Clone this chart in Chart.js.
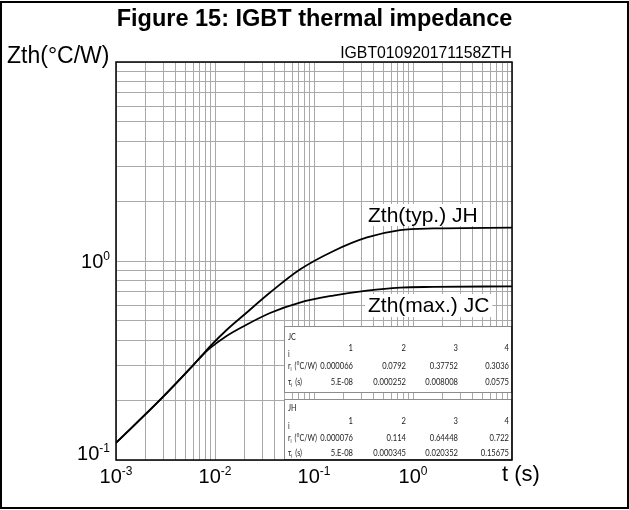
<!DOCTYPE html>
<html><head><meta charset="utf-8">
<script src="https://cdn.jsdelivr.net/npm/chart.js@4/dist/chart.umd.min.js"></script>
<style>html,body{margin:0;padding:0;background:#fff}#wrap{width:629px;height:510px;position:relative}</style>
</head><body><div id="wrap"><canvas id="c" width="629" height="510"></canvas></div>
<script>
// ---- data ----
const timeJC = [0.001, 0.0028, 0.006, 0.0075, 0.0089, 0.0131, 0.0193, 0.036, 0.072, 0.156, 0.343, 0.74, 1.6, 10];
const zthJC  = [0.122, 0.201, 0.299, 0.337, 0.365, 0.42, 0.469, 0.548, 0.618, 0.670, 0.710, 0.7355, 0.741, 0.746];
const timeJH = [0.001, 0.0028, 0.006, 0.0075, 0.0089, 0.0131, 0.0193, 0.036, 0.072, 0.156, 0.343, 0.74, 1.6, 10];
const zthJH  = [0.122, 0.201, 0.299, 0.338, 0.372, 0.45, 0.532, 0.694, 0.906, 1.12, 1.313, 1.43, 1.458, 1.47];

const xTickExponents = [-3, -2, -1, 0];
const yTickExponents = [0, -1];
const xRange = [0.001, 10];
const yRange = [0.1, 10];

const tableIndex = ['1', '2', '3', '4'];
const jcR   = ['0.000066', '0.0792', '0.37752', '0.3036'];
const jcTau = ['5.E-08', '0.000252', '0.008008', '0.0575'];
const jhR   = ['0.000076', '0.114', '0.64448', '0.722'];
const jhTau = ['5.E-08', '0.000345', '0.020352', '0.15675'];

const titleText = 'Figure 15: IGBT thermal impedance';
const yTitle = 'Zth(°C/W)';
const xTitle = 't (s)';
const codeText = 'IGBT010920171158ZTH';
const labelJH = 'Zth(typ.) JH';
const labelJC = 'Zth(max.) JC';

// grid values 1..9 x 10^k
function decadeGrid(min, max) {
  const out = [];
  for (let e = Math.round(Math.log10(min)); e < Math.round(Math.log10(max)); e++) {
    for (let m = 1; m <= 9; m++) out.push(+(m * Math.pow(10, e)).toPrecision(3));
  }
  out.push(max);
  return out;
}
const xGrid = decadeGrid(xRange[0], xRange[1]);
const yGrid = decadeGrid(yRange[0], yRange[1]);

const ARIAL = '"Liberation Sans", Arial, sans-serif';
const TABLEFONT = 'Lato, "Noto Sans", sans-serif';

function pts(xs, ys) { return xs.map((x, i) => ({x: x, y: ys[i]})); }

function drawPow(ctx, exp, x, y, align) {
  const base = '10', sup = String(exp);
  ctx.font = '20px ' + ARIAL;
  const wb = ctx.measureText(base).width;
  ctx.font = '12px ' + ARIAL;
  const ws = ctx.measureText(sup).width;
  const total = wb + ws;
  let sx = align === 'right' ? x - total : x - total / 2;
  ctx.textAlign = 'left';
  ctx.textBaseline = 'alphabetic';
  ctx.font = '20px ' + ARIAL;
  ctx.fillText(base, sx, y);
  ctx.font = '12px ' + ARIAL;
  ctx.fillText(sup, sx + wb, y - 8.5);
}

function sText(ctx, txt, x, y, size, align, sq) {
  ctx.save();
  ctx.font = size + 'px ' + TABLEFONT;
  ctx.translate(x, y);
  ctx.scale(sq, 1);
  ctx.textAlign = align || 'left';
  ctx.textBaseline = 'alphabetic';
  ctx.fillText(txt, 0, 0);
  const w = ctx.measureText(txt).width * sq;
  ctx.restore();
  return w;
}

function drawTable(ctx, box, name, idx, r, tau, rows) {
  ctx.save();
  ctx.fillStyle = '#fff';
  ctx.fillRect(box.x, box.y, box.w, box.h);
  ctx.strokeStyle = '#8c8c8c';
  ctx.lineWidth = 1;
  ctx.strokeRect(box.x + 0.5, box.y + 0.5, box.w - 1, box.h - 1);
  ctx.fillStyle = '#222';
  const fs = 10, sq = 0.76, lsq = 0.72;
  const lx = box.x + 4;
  sText(ctx, name, lx, box.y + rows[0], fs, 'left', lsq);
  sText(ctx, 'i', lx, box.y + rows[2], fs, 'left', lsq);
  let w = sText(ctx, 'r', lx, box.y + rows[3], fs, 'left', lsq);
  sText(ctx, 'i', lx + w, box.y + rows[3] + 2, 6.5, 'left', lsq);
  sText(ctx, '(°C/W)', lx + w + 4, box.y + rows[3], fs, 'left', lsq);
  w = sText(ctx, 'τ', lx, box.y + rows[4], fs, 'left', lsq);
  sText(ctx, 'i', lx + w, box.y + rows[4] + 2, 6.5, 'left', lsq);
  sText(ctx, '(s)', lx + w + 4, box.y + rows[4], fs, 'left', lsq);
  const cols = [box.x + 69, box.x + 122, box.x + 174, box.x + 225];
  for (let i = 0; i < 4; i++) {
    sText(ctx, idx[i], cols[i], box.y + rows[1], fs, 'right', sq);
    sText(ctx, r[i], cols[i], box.y + rows[3], fs, 'right', sq);
    sText(ctx, tau[i], cols[i], box.y + rows[4], fs, 'right', sq);
  }
  ctx.restore();
}

const decor = {
  id: 'decor',
  afterDatasetsDraw(chart) {
    const ctx = chart.ctx;
    const a = chart.chartArea;
    const xs = chart.scales.x, ys = chart.scales.y;
    ctx.save();
    // inset tables
    drawTable(ctx, {x: a.left + 168, y: 326, w: a.right - a.left - 168, h: 67}, 'JC', tableIndex, jcR, jcTau, [14, 25, 31, 43, 59]);
    drawTable(ctx, {x: a.left + 168, y: 399, w: a.right - a.left - 168, h: a.bottom - 399}, 'JH', tableIndex, jhR, jhTau, [12, 25, 30, 42, 57]);
    // curve labels with white background
    ctx.font = '21px ' + ARIAL;
    ctx.textAlign = 'left';
    ctx.textBaseline = 'alphabetic';
    let w = ctx.measureText(labelJH).width;
    ctx.fillStyle = '#fff';
    ctx.fillRect(365, 204, w + 6, 22);
    ctx.fillStyle = '#000';
    ctx.fillText(labelJH, 368, 222);
    w = ctx.measureText(labelJC).width;
    ctx.fillStyle = '#fff';
    ctx.fillRect(365, 294, w + 6, 23);
    ctx.fillStyle = '#000';
    ctx.fillText(labelJC, 368, 312);
    // plot border
    ctx.strokeStyle = '#000';
    ctx.lineWidth = 1.5;
    ctx.strokeRect(a.left, a.top, a.right - a.left, a.bottom - a.top);
    // tick labels
    ctx.fillStyle = '#000';
    xTickExponents.forEach(e => drawPow(ctx, e, xs.getPixelForValue(Math.pow(10, e)), 483, 'center'));
    yTickExponents.forEach(e => {
      const py = ys.getPixelForValue(Math.pow(10, e));
      const by = Math.min(py + 7, a.bottom);
      drawPow(ctx, e, a.left - 6, by, 'right');
    });
    // axis titles
    ctx.font = '22px ' + ARIAL;
    ctx.textAlign = 'left';
    ctx.fillText(xTitle, 502, 481);
    ctx.font = '23px ' + ARIAL;
    ctx.fillText(yTitle, 7, 63);
    ctx.font = '15.8px ' + ARIAL;
    ctx.textAlign = 'right';
    ctx.fillText(codeText, a.right, 58);
    // title
    ctx.font = 'bold 23.5px ' + ARIAL;
    ctx.textAlign = 'center';
    ctx.fillText(titleText, 314.5, 26);
    // outer frame
    ctx.lineWidth = 2;
    ctx.strokeRect(1, 2, 627, 506);
    ctx.restore();
  }
};

const gridOpts = {color: '#a9a9a9', lineWidth: 1, drawTicks: false};
new Chart(document.getElementById('c'), {
  type: 'scatter',
  data: {
    datasets: [
      {label: 'Zth(typ.) JH', data: pts(timeJH, zthJH), showLine: true, borderColor: '#000', borderWidth: 1.8,
       pointRadius: 0, cubicInterpolationMode: 'monotone', fill: false},
      {label: 'Zth(max.) JC', data: pts(timeJC, zthJC), showLine: true, borderColor: '#000', borderWidth: 1.8,
       pointRadius: 0, cubicInterpolationMode: 'monotone', fill: false}
    ]
  },
  options: {
    responsive: false,
    animation: false,
    devicePixelRatio: 1,
    layout: {padding: {left: 116, right: 117, top: 62, bottom: 50}},
    plugins: {legend: {display: false}, tooltip: {enabled: false}},
    scales: {
      x: {type: 'logarithmic', min: xRange[0], max: xRange[1], grid: gridOpts,
          border: {display: false}, ticks: {display: false},
          afterBuildTicks: s => { s.ticks = xGrid.map(v => ({value: v})); }},
      y: {type: 'logarithmic', min: yRange[0], max: yRange[1], grid: gridOpts,
          border: {display: false}, ticks: {display: false},
          afterBuildTicks: s => { s.ticks = yGrid.map(v => ({value: v})); }}
    }
  },
  plugins: [decor]
});
</script>
</body></html>
